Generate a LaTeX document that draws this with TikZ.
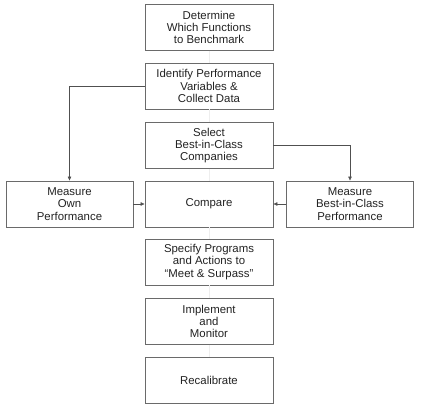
\documentclass[tikz,border=0pt]{standalone}
\usepackage{fontspec}
\setmainfont{Liberation Sans}
\usetikzlibrary{arrows.meta}
\definecolor{boxline}{HTML}{6A6A6A}
\definecolor{txt}{HTML}{222222}
\definecolor{conn}{HTML}{505050}
\definecolor{faint}{HTML}{EEEEEE}
\begin{document}
\begin{tikzpicture}[x=1pt,y=-1pt,
  stepbox/.style={draw=boxline,line width=0.9pt,minimum width=128pt,minimum height=46pt,align=center,inner sep=1pt,
    font=\fontsize{11.4}{12.2}\selectfont,text=txt},
  sidebox/.style={stepbox,minimum width=127pt},
  conn/.style={draw=conn,line width=0.6pt,-{Triangle[length=4pt,width=3.5pt]}},
  faintline/.style={draw=faint,line width=0.6pt}]
\useasboundingbox (0,0) rectangle (421,416);
\node[stepbox] (b1) at (209,27.5) {Determine\\Which Functions\\to Benchmark};
\node[stepbox] (b2) at (209,86) {Identify Performance\\Variables \&\\Collect Data};
\node[stepbox] (b3) at (209,145.5) {Select\\Best-in-Class\\Companies};
\node[stepbox] (cmp) at (209,204) {Compare};
\node[sidebox] (own) at (69.5,204) {Measure\\Own\\Performance};
\node[sidebox] (bic) at (350,204) {Measure\\Best-in-Class\\Performance};
\node[stepbox] (b5) at (209,262) {Specify Programs\\and Actions to\\``Meet \& Surpass''};
\node[stepbox] (b6) at (209,321.5) {Implement\\and\\Monitor};
\node[stepbox] (b7) at (209,380) {Recalibrate};
\draw[faintline] (b1) -- (b2);
\draw[faintline] (b2) -- (b3);
\draw[faintline] (b3) -- (cmp);
\draw[faintline] (cmp) -- (b5);
\draw[faintline] (b5) -- (b6);
\draw[faintline] (b6) -- (b7);
\draw[conn] (b2.west) -| (own.north);
\draw[conn] (b3.east) -| (bic.north);
\draw[conn] (own.east) -- (cmp.west);
\draw[conn] (bic.west) -- (cmp.east);
\end{tikzpicture}
\end{document}
